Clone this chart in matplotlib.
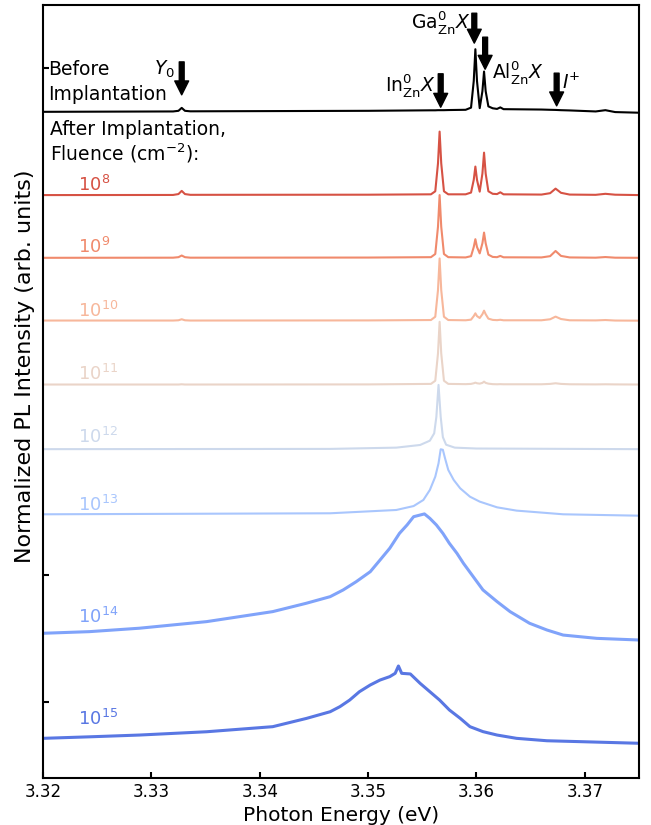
import numpy as np
import matplotlib
matplotlib.use('Agg')
import matplotlib.pyplot as plt

# energias comunes para los espectros con picos finos (eV)
e_fino = [3.3200, 3.3320, 3.3325, 3.3328, 3.3331, 3.3336, 3.3500, 3.3558, 3.3562, 3.35645,
          3.3566, 3.35675, 3.3570, 3.3574, 3.3590, 3.3595, 3.35975, 3.3599, 3.36005, 3.3603,
          3.36055, 3.3607, 3.36085, 3.3611, 3.3615, 3.3619, 3.3622, 3.3625, 3.3660, 3.3668,
          3.3673, 3.3678, 3.3686, 3.3710, 3.3719, 3.3728, 3.3750]

antes = [4.657, 4.660, 4.665, 4.688, 4.665, 4.661, 4.665, 4.669, 4.669, 4.670,
         4.670, 4.670, 4.670, 4.671, 4.673, 4.690, 4.900, 5.151, 4.900, 4.686,
         4.820, 4.975, 4.820, 4.700, 4.685, 4.680, 4.692, 4.678, 4.675, 4.673,
         4.672, 4.670, 4.668, 4.660, 4.670, 4.655, 4.650]

f1e8 = [4.000, 4.001, 4.008, 4.033, 4.008, 4.002, 4.003, 4.006, 4.030, 4.250,
        4.501, 4.250, 4.030, 4.006, 4.006, 4.020, 4.120, 4.225, 4.120, 4.027,
        4.170, 4.335, 4.170, 4.030, 4.010, 4.008, 4.022, 4.006, 4.004, 4.015,
        4.051, 4.018, 4.004, 4.002, 4.010, 4.003, 4.000]

f1e9 = [3.505, 3.506, 3.510, 3.523, 3.510, 3.506, 3.507, 3.510, 3.535, 3.750,
        4.000, 3.750, 3.535, 3.510, 3.508, 3.518, 3.590, 3.652, 3.590, 3.540,
        3.620, 3.704, 3.620, 3.530, 3.512, 3.510, 3.520, 3.509, 3.508, 3.518,
        3.559, 3.520, 3.508, 3.506, 3.511, 3.506, 3.505]

f1e10 = [3.010, 3.010, 3.012, 3.020, 3.012, 3.010, 3.011, 3.014, 3.040, 3.250,
         3.500, 3.250, 3.040, 3.014, 3.012, 3.017, 3.045, 3.067, 3.045, 3.030,
         3.060, 3.088, 3.060, 3.025, 3.015, 3.013, 3.016, 3.012, 3.012, 3.020,
         3.041, 3.022, 3.012, 3.011, 3.014, 3.010, 3.009]

f1e11 = [2.505, 2.505, 2.505, 2.507, 2.505, 2.505, 2.506, 2.510, 2.535, 2.750,
         3.000, 2.750, 2.535, 2.510, 2.508, 2.510, 2.515, 2.520, 2.515, 2.512,
         2.518, 2.528, 2.518, 2.512, 2.508, 2.507, 2.508, 2.507, 2.507, 2.510,
         2.515, 2.510, 2.507, 2.506, 2.507, 2.506, 2.505]

e_1e12 = [3.3200, 3.3465, 3.3526, 3.3548, 3.3557, 3.3561, 3.3563, 3.3565, 3.3567, 3.3569,
          3.3572, 3.3580, 3.3600, 3.3750]
f1e12 = [1.995, 1.997, 2.007, 2.028, 2.062, 2.120, 2.250, 2.502, 2.250, 2.090,
         2.030, 2.007, 2.000, 1.995]

e_1e13 = [3.3200, 3.3465, 3.3526, 3.3542, 3.3551, 3.3557, 3.3562, 3.3565, 3.3567, 3.3569,
          3.3571, 3.3574, 3.3579, 3.3585, 3.3594, 3.3603, 3.3619, 3.3637, 3.3649, 3.3680,
          3.3750]
f1e13 = [1.481, 1.489, 1.515, 1.546, 1.594, 1.673, 1.778, 1.883, 1.994, 1.990,
         1.923, 1.831, 1.752, 1.686, 1.620, 1.581, 1.536, 1.510, 1.502, 1.481,
         1.470]

e_1e14 = [3.3200, 3.3243, 3.3289, 3.3351, 3.3412, 3.3443, 3.3465, 3.3477, 3.3489, 3.3502,
          3.3511, 3.3520, 3.3529, 3.3536, 3.3542, 3.3552, 3.3557, 3.3563, 3.3569, 3.3575,
          3.3582, 3.3588, 3.3597, 3.3606, 3.3619, 3.3631, 3.3649, 3.3665, 3.3680, 3.3711,
          3.3750]
f1e14 = [0.542, 0.555, 0.582, 0.634, 0.713, 0.779, 0.831, 0.884, 0.949, 1.028,
         1.120, 1.213, 1.331, 1.397, 1.462, 1.484, 1.449, 1.397, 1.331, 1.252,
         1.173, 1.094, 0.989, 0.884, 0.792, 0.713, 0.621, 0.568, 0.528, 0.502,
         0.489]

e_1e15 = [3.3200, 3.3243, 3.3289, 3.3351, 3.3412, 3.3443, 3.3465, 3.3474, 3.3483, 3.3492,
          3.3502, 3.3511, 3.3520, 3.3525, 3.3528, 3.3531, 3.3539, 3.3548, 3.3557, 3.3566,
          3.3575, 3.3585, 3.3594, 3.3606, 3.3619, 3.3637, 3.3665, 3.3695, 3.3750]
f1e15 = [-0.287, -0.275, -0.261, -0.235, -0.195, -0.130, -0.077, -0.037, 0.015, 0.081,
         0.134, 0.173, 0.200, 0.226, 0.284, 0.226, 0.221, 0.147, 0.081, 0.015,
         -0.063, -0.129, -0.195, -0.234, -0.261, -0.287, -0.306, -0.313, -0.326]

etiquetas = ['$10^{8}$', '$10^{9}$', '$10^{10}$', '$10^{11}$', '$10^{12}$', '$10^{13}$', '$10^{14}$', '$10^{15}$']
y_etiquetas = [4.033, 3.541, 3.041, 2.541, 2.046, 1.510, 0.621, -0.182]

plt.rcParams['font.family'] = 'DejaVu Sans'
plt.rcParams['mathtext.fontset'] = 'dejavusans'

fig = plt.figure(figsize=(6.51, 8.25), dpi=100)
ax = fig.add_axes([43/651, 47/825, 596/651, 773/825])

colores = plt.cm.coolwarm(np.linspace(0.9, 0.1, 8))

ax.plot(e_fino, antes, color='black', lw=1.5)
series = [(e_fino, f1e8), (e_fino, f1e9), (e_fino, f1e10), (e_fino, f1e11),
          (e_1e12, f1e12), (e_1e13, f1e13), (e_1e14, f1e14), (e_1e15, f1e15)]
for i, (x, y) in enumerate(series):
    grosor = 2.2 if i >= 6 else 1.5
    ax.plot(x, y, color=colores[i], lw=grosor)
    ax.text(3.3232, y_etiquetas[i], etiquetas[i], color=colores[i], fontsize=13,
            ha='left', va='baseline')

# textos de la izquierda
ax.text(3.3205, 4.949, 'Before', fontsize=13.5, va='baseline')
ax.text(3.3205, 4.751, 'Implantation', fontsize=13.5, va='baseline')
ax.text(3.3206, 4.475, 'After Implantation,', fontsize=13.5, va='baseline')
ax.text(3.3206, 4.270, 'Fluence (cm$^{-2}$):', fontsize=13.5, va='baseline')

# flechas de los picos
flecha = dict(facecolor='black', edgecolor='black', width=3.5, headwidth=10, headlength=10, shrink=0)
ax.annotate('', xy=(3.3328, 4.791), xytext=(3.3328, 5.051), arrowprops=flecha)
ax.annotate('', xy=(3.3567, 4.693), xytext=(3.3567, 4.957), arrowprops=flecha)
ax.annotate('', xy=(3.3598, 5.199), xytext=(3.3598, 5.435), arrowprops=flecha)
ax.annotate('', xy=(3.3608, 4.993), xytext=(3.3608, 5.246), arrowprops=flecha)
ax.annotate('', xy=(3.3674, 4.704), xytext=(3.3674, 4.962), arrowprops=flecha)

ax.text(3.3322, 4.949, '$Y_0$', fontsize=13.5, ha='right', va='baseline')
ax.text(3.3562, 4.817, r'$\mathrm{In}^{0}_{\mathrm{Zn}}X$', fontsize=13.5, ha='right', va='baseline')
ax.text(3.3594, 5.317, r'$\mathrm{Ga}^{0}_{\mathrm{Zn}}X$', fontsize=13.5, ha='right', va='baseline')
ax.text(3.3614, 4.922, r'$\mathrm{Al}^{0}_{\mathrm{Zn}}X$', fontsize=13.5, ha='left', va='baseline')
ax.text(3.3679, 4.836, '$I^{+}$', fontsize=13.5, ha='left', va='baseline')

ax.set_xlim(3.32, 3.375)
ax.set_ylim(-0.6, 5.5)
ax.set_xticks([3.32, 3.33, 3.34, 3.35, 3.36, 3.37])
ax.set_xticklabels(['3.32', '3.33', '3.34', '3.35', '3.36', '3.37'])
ax.set_yticks([0, 1, 5])
ax.set_yticklabels([])
ax.tick_params(direction='in', length=4, width=1.5, labelsize=12)
for s in ax.spines.values():
    s.set_linewidth(1.5)

ax.set_xlabel('Photon Energy (eV)', fontsize=14.5)
ax.set_ylabel('Normalized PL Intensity (arb. units)', fontsize=16)
ax.yaxis.set_label_coords(-0.013, 0.533)

plt.savefig('out.png', dpi=100)
